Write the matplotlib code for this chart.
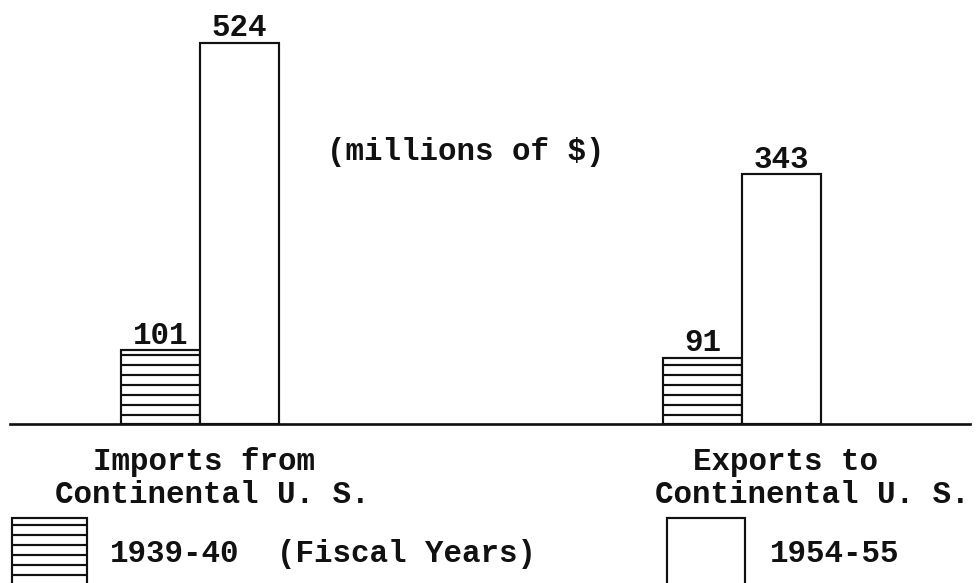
import matplotlib
matplotlib.use("Agg")
import matplotlib.pyplot as plt
from matplotlib.patches import Rectangle
import numpy as np

# ---- data ----
categories = ["Imports from\nContinental U. S.", "Exports to\nContinental U. S."]
years = ["1939-40", "1954-55"]
values_1939 = [101, 91]
values_1954 = [524, 343]
unit_note = "(millions of $)"
fiscal_note = "(Fiscal Years)"

DPI = 120
W, H = 980, 583
plt.rcParams['hatch.linewidth'] = 1.3
plt.rcParams['font.family'] = ['Liberation Mono', 'DejaVu Sans Mono']
FS = 18.5
INK = '#111111'

fig = plt.figure(figsize=(W / DPI, H / DPI), dpi=DPI)
fig.patch.set_facecolor('white')
ax = fig.add_axes([0, 159 / H, 1, 424 / H])
ax.set_xlim(-0.369, 1.439)
ax.set_ylim(0, 582.4)
ax.axis('off')

x = np.arange(len(categories))
width = 0.1458
b1 = ax.bar(x - width / 2, values_1939, width, facecolor='white', edgecolor=INK,
            hatch='--', linewidth=1.3, clip_on=False)
b2 = ax.bar(x + width / 2, values_1954, width, facecolor='white', edgecolor=INK,
            linewidth=1.3, clip_on=False)

for bars, vals in ((b1, values_1939), (b2, values_1954)):
    for rect, v in zip(bars, vals):
        ax.annotate(str(v), xy=(rect.get_x() + rect.get_width() / 2, v),
                    xytext=(0, 4), textcoords='offset points', ha='center',
                    va='baseline', fontsize=FS, fontweight='bold', color=INK)

# baseline
ax.axhline(0, xmin=10 / W, xmax=970 / W, color=INK, linewidth=1.6, clip_on=False)


def ftext(px, py, s, **kw):
    fig.text(px / W, 1 - py / H, s, fontsize=FS, fontweight='bold', color=INK,
             va='baseline', ha='left', **kw)


ftext(327, 160, unit_note)

# category labels (typed with 2-char indent on first line)
cat_left = [55, 655]
for left, cat in zip(cat_left, categories):
    first, second = cat.split("\n")
    ftext(left + 38, 470, first)
    ftext(left, 503, second)

# legend
leg_boxes = [(12, 87, '--'), (667, 745, None)]
for (x0, x1, h) in leg_boxes:
    r = Rectangle((x0 / W, 1 - 600 / H), (x1 - x0) / W, (600 - 518) / H,
                  transform=fig.transFigure, facecolor='white', edgecolor=INK,
                  linewidth=1.3, hatch=h, clip_on=False)
    fig.patches.append(r)

ftext(110, 562, years[0])
ftext(277, 562, fiscal_note)
ftext(770, 562, years[1])

fig.savefig('out.png', dpi=DPI, facecolor='white')
